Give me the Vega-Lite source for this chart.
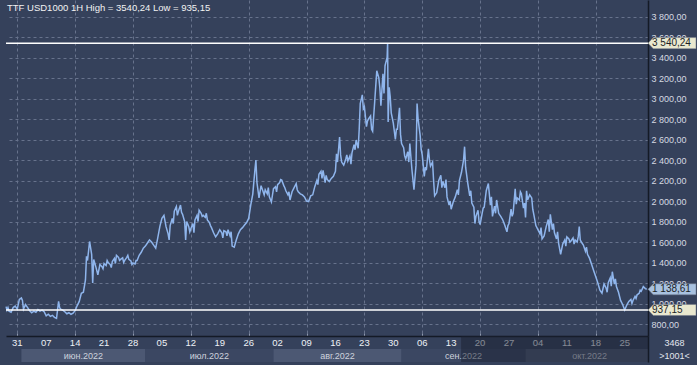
{
  "$schema": "https://vega.github.io/schema/vega-lite/v6.json",
  "background": "#35415b",
  "padding": {"left": 3, "top": 0, "right": 4, "bottom": 3},
  "spacing": 0,
  "bounds": "flush",
  "resolve": {"scale": {"fill": "independent", "x": "independent", "y": "independent"}},
  "config": {
    "view": {"stroke": null},
    "font": "Liberation Sans",
    "locale": {"number": {"decimal": ",", "thousands": " ", "grouping": [3], "currency": ["", ""]}}
  },
  "vconcat": [
    {
      "width": 642,
      "height": 336,
      "encoding": {
        "y": {
          "field": "v", "type": "quantitative",
          "scale": {"domain": [683, 3961], "zero": false, "nice": false},
          "axis": {
            "title": null, "orient": "right",
            "values": [800, 1000, 1200, 1400, 1600, 1800, 2000, 2200, 2400, 2600, 2800, 3000, 3200, 3400, 3600, 3800],
            "tickCount": 16,
            "format": ",.2f", "labelOverlap": false,
            "labelColor": "#d6dae2", "labelFontSize": 9, "labelPadding": 3, "labelBaseline": "middle",
            "ticks": false, "domain": true, "domainColor": "#141a26", "domainWidth": 1.5,
            "grid": true, "gridColor": "#67728c", "gridDash": [3, 3], "gridWidth": 1
          }
        }
      },
      "layer": [
        {
          "data": {"values": [
            {"t":"2022-05-28T07:00","v":969},{"t":"2022-05-28T12:00","v":935},{"t":"2022-05-28T18:00","v":960},
            {"t":"2022-05-29T00:00","v":925},{"t":"2022-05-29T12:00","v":915},
            {"t":"2022-05-30T00:00","v":960},{"t":"2022-05-30T12:00","v":975},
            {"t":"2022-05-31T00:00","v":945},{"t":"2022-05-31T12:00","v":1040},
            {"t":"2022-06-01T00:00","v":1055},{"t":"2022-06-01T06:00","v":1030},{"t":"2022-06-01T12:00","v":945},
            {"t":"2022-06-02T00:00","v":990},{"t":"2022-06-02T12:00","v":960},
            {"t":"2022-06-03T00:00","v":930},{"t":"2022-06-03T12:00","v":910},
            {"t":"2022-06-04T00:00","v":925},{"t":"2022-06-04T12:00","v":915},
            {"t":"2022-06-05T00:00","v":940},{"t":"2022-06-05T12:00","v":925},
            {"t":"2022-06-06T00:00","v":935},{"t":"2022-06-06T12:00","v":920},
            {"t":"2022-06-07T00:00","v":880},{"t":"2022-06-07T12:00","v":895},
            {"t":"2022-06-08T00:00","v":875},{"t":"2022-06-08T12:00","v":885},
            {"t":"2022-06-09T00:00","v":865},{"t":"2022-06-09T12:00","v":855},
            {"t":"2022-06-10T00:00","v":1020},{"t":"2022-06-10T06:00","v":960},{"t":"2022-06-10T12:00","v":945},
            {"t":"2022-06-11T00:00","v":935},{"t":"2022-06-11T12:00","v":920},
            {"t":"2022-06-12T00:00","v":900},{"t":"2022-06-12T12:00","v":910},
            {"t":"2022-06-13T00:00","v":895},{"t":"2022-06-13T12:00","v":905},
            {"t":"2022-06-14T00:00","v":930},{"t":"2022-06-14T12:00","v":980},
            {"t":"2022-06-15T00:00","v":1020},{"t":"2022-06-15T12:00","v":1100},
            {"t":"2022-06-16T00:00","v":1110},{"t":"2022-06-16T12:00","v":1230},{"t":"2022-06-16T18:00","v":1460},
            {"t":"2022-06-17T00:00","v":1420},{"t":"2022-06-17T12:00","v":1605},
            {"t":"2022-06-18T00:00","v":1480},{"t":"2022-06-18T06:00","v":1200},{"t":"2022-06-18T12:00","v":1430},
            {"t":"2022-06-19T00:00","v":1360},{"t":"2022-06-19T12:00","v":1280},
            {"t":"2022-06-20T00:00","v":1380},{"t":"2022-06-20T12:00","v":1360},
            {"t":"2022-06-21T00:00","v":1390},{"t":"2022-06-21T12:00","v":1370},
            {"t":"2022-06-22T00:00","v":1400},{"t":"2022-06-22T12:00","v":1380},
            {"t":"2022-06-23T00:00","v":1410},{"t":"2022-06-23T12:00","v":1440},
            {"t":"2022-06-24T00:00","v":1470},{"t":"2022-06-24T12:00","v":1450},
            {"t":"2022-06-25T00:00","v":1430},{"t":"2022-06-25T12:00","v":1445},
            {"t":"2022-06-26T00:00","v":1420},{"t":"2022-06-26T12:00","v":1450},
            {"t":"2022-06-27T00:00","v":1430},{"t":"2022-06-27T12:00","v":1415},
            {"t":"2022-06-28T00:00","v":1395},{"t":"2022-06-28T12:00","v":1385},
            {"t":"2022-06-29T00:00","v":1420},{"t":"2022-06-29T12:00","v":1470},
            {"t":"2022-06-30T00:00","v":1500},{"t":"2022-06-30T12:00","v":1540},
            {"t":"2022-07-01T00:00","v":1560},{"t":"2022-07-01T12:00","v":1590},
            {"t":"2022-07-02T00:00","v":1620},{"t":"2022-07-02T12:00","v":1600},
            {"t":"2022-07-03T00:00","v":1570},{"t":"2022-07-03T12:00","v":1540},
            {"t":"2022-07-04T00:00","v":1640},{"t":"2022-07-04T12:00","v":1750},
            {"t":"2022-07-05T00:00","v":1830},{"t":"2022-07-05T12:00","v":1860},
            {"t":"2022-07-06T00:00","v":1750},{"t":"2022-07-06T12:00","v":1680},{"t":"2022-07-06T18:00","v":1620},
            {"t":"2022-07-07T00:00","v":1760},{"t":"2022-07-07T12:00","v":1830},
            {"t":"2022-07-08T00:00","v":1900},{"t":"2022-07-08T12:00","v":1945},
            {"t":"2022-07-09T00:00","v":1900},{"t":"2022-07-09T12:00","v":1960},
            {"t":"2022-07-10T00:00","v":1870},{"t":"2022-07-10T12:00","v":1800},{"t":"2022-07-10T18:00","v":1620},
            {"t":"2022-07-11T00:00","v":1800},{"t":"2022-07-11T12:00","v":1750},
            {"t":"2022-07-12T00:00","v":1730},{"t":"2022-07-12T12:00","v":1780},
            {"t":"2022-07-13T00:00","v":1815},{"t":"2022-07-13T12:00","v":1860},
            {"t":"2022-07-14T00:00","v":1910},{"t":"2022-07-14T12:00","v":1880},
            {"t":"2022-07-15T00:00","v":1860},{"t":"2022-07-15T12:00","v":1840},
            {"t":"2022-07-16T00:00","v":1815},{"t":"2022-07-16T12:00","v":1790},
            {"t":"2022-07-17T00:00","v":1740},{"t":"2022-07-17T12:00","v":1690},
            {"t":"2022-07-18T00:00","v":1650},{"t":"2022-07-18T12:00","v":1680},
            {"t":"2022-07-19T00:00","v":1720},{"t":"2022-07-19T12:00","v":1690},
            {"t":"2022-07-20T00:00","v":1710},{"t":"2022-07-20T12:00","v":1700},
            {"t":"2022-07-21T00:00","v":1720},{"t":"2022-07-21T12:00","v":1660},
            {"t":"2022-07-22T00:00","v":1560},{"t":"2022-07-22T12:00","v":1550},
            {"t":"2022-07-23T00:00","v":1620},{"t":"2022-07-23T12:00","v":1680},
            {"t":"2022-07-24T00:00","v":1720},{"t":"2022-07-24T12:00","v":1740},
            {"t":"2022-07-25T00:00","v":1765},{"t":"2022-07-25T12:00","v":1790},
            {"t":"2022-07-26T00:00","v":1830},{"t":"2022-07-26T12:00","v":1960},
            {"t":"2022-07-27T00:00","v":2070},{"t":"2022-07-27T12:00","v":2300},{"t":"2022-07-27T18:00","v":2400},
            {"t":"2022-07-28T00:00","v":2180},{"t":"2022-07-28T12:00","v":2030},
            {"t":"2022-07-29T00:00","v":2150},{"t":"2022-07-29T12:00","v":2090},
            {"t":"2022-07-30T00:00","v":2110},{"t":"2022-07-30T12:00","v":2070},
            {"t":"2022-07-31T00:00","v":2040},{"t":"2022-07-31T12:00","v":1990},
            {"t":"2022-08-01T00:00","v":2120},{"t":"2022-08-01T12:00","v":2140},
            {"t":"2022-08-02T00:00","v":2160},{"t":"2022-08-02T12:00","v":2180},
            {"t":"2022-08-03T00:00","v":2205},{"t":"2022-08-03T12:00","v":2150},
            {"t":"2022-08-04T00:00","v":2100},{"t":"2022-08-04T12:00","v":2060},
            {"t":"2022-08-05T00:00","v":2010},{"t":"2022-08-05T12:00","v":2090},
            {"t":"2022-08-06T00:00","v":2130},{"t":"2022-08-06T12:00","v":2170},
            {"t":"2022-08-07T00:00","v":2090},{"t":"2022-08-07T12:00","v":2070},
            {"t":"2022-08-08T00:00","v":2060},{"t":"2022-08-08T12:00","v":2040},
            {"t":"2022-08-09T00:00","v":2000},{"t":"2022-08-09T12:00","v":1995},
            {"t":"2022-08-10T00:00","v":2050},{"t":"2022-08-10T12:00","v":2060},
            {"t":"2022-08-11T00:00","v":2140},{"t":"2022-08-11T12:00","v":2200},
            {"t":"2022-08-12T00:00","v":2260},{"t":"2022-08-12T12:00","v":2290},
            {"t":"2022-08-13T00:00","v":2300},{"t":"2022-08-13T12:00","v":2180},
            {"t":"2022-08-14T00:00","v":2210},{"t":"2022-08-14T12:00","v":2190},
            {"t":"2022-08-15T00:00","v":2220},{"t":"2022-08-15T12:00","v":2240},
            {"t":"2022-08-16T00:00","v":2290},{"t":"2022-08-16T06:00","v":2460},{"t":"2022-08-16T12:00","v":2380},
            {"t":"2022-08-17T00:00","v":2625},{"t":"2022-08-17T06:00","v":2450},{"t":"2022-08-17T12:00","v":2380},
            {"t":"2022-08-18T00:00","v":2350},{"t":"2022-08-18T12:00","v":2410},
            {"t":"2022-08-19T00:00","v":2390},{"t":"2022-08-19T12:00","v":2440},
            {"t":"2022-08-20T00:00","v":2470},{"t":"2022-08-20T12:00","v":2550},
            {"t":"2022-08-21T00:00","v":2595},{"t":"2022-08-21T12:00","v":2515},{"t":"2022-08-21T18:00","v":2700},
            {"t":"2022-08-22T00:00","v":2950},{"t":"2022-08-22T12:00","v":3035},
            {"t":"2022-08-23T00:00","v":2920},{"t":"2022-08-23T12:00","v":2725},
            {"t":"2022-08-24T00:00","v":2800},{"t":"2022-08-24T12:00","v":2830},
            {"t":"2022-08-25T00:00","v":2680},{"t":"2022-08-25T12:00","v":2970},
            {"t":"2022-08-26T00:00","v":3270},{"t":"2022-08-26T12:00","v":3200},
            {"t":"2022-08-27T00:00","v":2930},{"t":"2022-08-27T12:00","v":3240},
            {"t":"2022-08-28T00:00","v":3320},{"t":"2022-08-28T12:00","v":3400},{"t":"2022-08-28T15:00","v":3540.24},{"t":"2022-08-28T18:00","v":2770},
            {"t":"2022-08-29T00:00","v":3110},{"t":"2022-08-29T06:00","v":3020},{"t":"2022-08-29T12:00","v":2860},
            {"t":"2022-08-30T00:00","v":2760},{"t":"2022-08-30T12:00","v":2600},
            {"t":"2022-08-31T00:00","v":2700},{"t":"2022-08-31T12:00","v":2910},{"t":"2022-08-31T18:00","v":2650},
            {"t":"2022-09-01T00:00","v":2560},{"t":"2022-09-01T12:00","v":2520},
            {"t":"2022-09-02T00:00","v":2410},{"t":"2022-09-02T12:00","v":2480},
            {"t":"2022-09-03T00:00","v":2560},{"t":"2022-09-03T12:00","v":2310},
            {"t":"2022-09-04T00:00","v":2110},{"t":"2022-09-04T12:00","v":2350},{"t":"2022-09-04T18:00","v":2950},
            {"t":"2022-09-05T00:00","v":2800},{"t":"2022-09-05T12:00","v":2640},
            {"t":"2022-09-06T00:00","v":2450},{"t":"2022-09-06T12:00","v":2240},
            {"t":"2022-09-07T00:00","v":2300},{"t":"2022-09-07T12:00","v":2510},
            {"t":"2022-09-08T00:00","v":2340},{"t":"2022-09-08T12:00","v":2380},
            {"t":"2022-09-09T00:00","v":2050},{"t":"2022-09-09T12:00","v":2080},
            {"t":"2022-09-10T00:00","v":2200},{"t":"2022-09-10T12:00","v":2250},
            {"t":"2022-09-11T00:00","v":2190},{"t":"2022-09-11T12:00","v":2130},
            {"t":"2022-09-12T00:00","v":2040},{"t":"2022-09-12T12:00","v":1960},
            {"t":"2022-09-13T00:00","v":1920},{"t":"2022-09-13T12:00","v":1990},
            {"t":"2022-09-14T00:00","v":2040},{"t":"2022-09-14T12:00","v":2110},
            {"t":"2022-09-15T00:00","v":2200},{"t":"2022-09-15T12:00","v":2280},
            {"t":"2022-09-16T00:00","v":2400},{"t":"2022-09-16T06:00","v":2530},{"t":"2022-09-16T12:00","v":2330},
            {"t":"2022-09-17T00:00","v":2180},{"t":"2022-09-17T12:00","v":2050},
            {"t":"2022-09-18T00:00","v":1980},{"t":"2022-09-18T12:00","v":1940},{"t":"2022-09-18T18:00","v":1780},
            {"t":"2022-09-19T00:00","v":1850},{"t":"2022-09-19T12:00","v":1910},
            {"t":"2022-09-20T00:00","v":1770},{"t":"2022-09-20T12:00","v":1880},
            {"t":"2022-09-21T00:00","v":1940},{"t":"2022-09-21T12:00","v":2100},
            {"t":"2022-09-22T00:00","v":2170},{"t":"2022-09-22T12:00","v":1960},
            {"t":"2022-09-23T00:00","v":1850},{"t":"2022-09-23T12:00","v":1950},
            {"t":"2022-09-24T00:00","v":2010},{"t":"2022-09-24T12:00","v":1880},
            {"t":"2022-09-25T00:00","v":1850},{"t":"2022-09-25T12:00","v":1815},
            {"t":"2022-09-26T00:00","v":1760},{"t":"2022-09-26T12:00","v":1700},
            {"t":"2022-09-27T00:00","v":1780},{"t":"2022-09-27T12:00","v":1920},
            {"t":"2022-09-28T00:00","v":1880},{"t":"2022-09-28T12:00","v":2120},
            {"t":"2022-09-29T00:00","v":2030},{"t":"2022-09-29T12:00","v":2010},
            {"t":"2022-09-30T00:00","v":2070},{"t":"2022-09-30T12:00","v":1930},
            {"t":"2022-10-01T00:00","v":1840},{"t":"2022-10-01T06:00","v":2100},{"t":"2022-10-01T12:00","v":2010},
            {"t":"2022-10-02T00:00","v":2060},{"t":"2022-10-02T12:00","v":2030},
            {"t":"2022-10-03T00:00","v":1870},{"t":"2022-10-03T12:00","v":1760},
            {"t":"2022-10-04T00:00","v":1720},{"t":"2022-10-04T12:00","v":1680},
            {"t":"2022-10-05T00:00","v":1630},{"t":"2022-10-05T12:00","v":1660},
            {"t":"2022-10-06T00:00","v":1750},{"t":"2022-10-06T12:00","v":1820},
            {"t":"2022-10-07T00:00","v":1870},{"t":"2022-10-07T12:00","v":1720},
            {"t":"2022-10-08T00:00","v":1690},{"t":"2022-10-08T12:00","v":1630},
            {"t":"2022-10-09T00:00","v":1590},{"t":"2022-10-09T12:00","v":1480},
            {"t":"2022-10-10T00:00","v":1580},{"t":"2022-10-10T12:00","v":1620},
            {"t":"2022-10-11T00:00","v":1650},{"t":"2022-10-11T12:00","v":1630},
            {"t":"2022-10-12T00:00","v":1610},{"t":"2022-10-12T12:00","v":1640},
            {"t":"2022-10-13T00:00","v":1620},{"t":"2022-10-13T12:00","v":1600},
            {"t":"2022-10-14T00:00","v":1750},{"t":"2022-10-14T06:00","v":1620},{"t":"2022-10-14T12:00","v":1600},
            {"t":"2022-10-15T00:00","v":1570},{"t":"2022-10-15T12:00","v":1510},
            {"t":"2022-10-16T00:00","v":1480},{"t":"2022-10-16T12:00","v":1440},
            {"t":"2022-10-17T00:00","v":1380},{"t":"2022-10-17T12:00","v":1320},
            {"t":"2022-10-18T00:00","v":1260},{"t":"2022-10-18T12:00","v":1200},
            {"t":"2022-10-19T00:00","v":1130},{"t":"2022-10-19T12:00","v":1100},
            {"t":"2022-10-20T00:00","v":1190},{"t":"2022-10-20T12:00","v":1150},
            {"t":"2022-10-21T00:00","v":1200},{"t":"2022-10-21T12:00","v":1250},
            {"t":"2022-10-22T00:00","v":1310},{"t":"2022-10-22T12:00","v":1190},
            {"t":"2022-10-23T00:00","v":1165},{"t":"2022-10-23T12:00","v":1110},
            {"t":"2022-10-24T00:00","v":1030},{"t":"2022-10-24T12:00","v":990},
            {"t":"2022-10-25T00:00","v":937},{"t":"2022-10-25T12:00","v":985},
            {"t":"2022-10-26T00:00","v":1020},{"t":"2022-10-26T12:00","v":1040},
            {"t":"2022-10-27T00:00","v":1030},{"t":"2022-10-27T12:00","v":1070},
            {"t":"2022-10-28T00:00","v":1085},{"t":"2022-10-28T12:00","v":1100},
            {"t":"2022-10-29T00:00","v":1120},{"t":"2022-10-29T12:00","v":1165},
            {"t":"2022-10-30T00:00","v":1145},{"t":"2022-10-30T08:00","v":1138.61},
            {"t":"2022-06-20T18:00","v":1340},{"t":"2022-06-21T18:00","v":1420},{"t":"2022-06-22T18:00","v":1350},
            {"t":"2022-06-23T18:00","v":1390},{"t":"2022-06-24T18:00","v":1420},{"t":"2022-06-25T18:00","v":1400},
            {"t":"2022-06-26T18:00","v":1470},{"t":"2022-06-27T18:00","v":1380},{"t":"2022-06-28T18:00","v":1420},
            {"t":"2022-07-07T18:00","v":1780},{"t":"2022-07-08T18:00","v":1860},{"t":"2022-07-09T18:00","v":1890},
            {"t":"2022-07-11T18:00","v":1700},{"t":"2022-07-12T18:00","v":1690},{"t":"2022-07-13T18:00","v":1800},
            {"t":"2022-07-14T18:00","v":1850},{"t":"2022-07-15T18:00","v":1880},{"t":"2022-07-16T18:00","v":1760},
            {"t":"2022-07-19T18:00","v":1640},{"t":"2022-07-20T18:00","v":1660},{"t":"2022-07-21T18:00","v":1700},
            {"t":"2022-07-29T18:00","v":2060},{"t":"2022-07-30T18:00","v":2130},{"t":"2022-08-01T18:00","v":2090},
            {"t":"2022-08-02T18:00","v":2210},{"t":"2022-08-03T18:00","v":2130},{"t":"2022-08-04T18:00","v":2090},
            {"t":"2022-08-06T18:00","v":2110},{"t":"2022-08-11T18:00","v":2160},{"t":"2022-08-12T18:00","v":2220},
            {"t":"2022-08-13T18:00","v":2250},{"t":"2022-08-18T18:00","v":2450},{"t":"2022-08-19T18:00","v":2360},
            {"t":"2022-08-20T18:00","v":2500},{"t":"2022-08-22T18:00","v":2900},{"t":"2022-08-23T18:00","v":2780},
            {"t":"2022-08-24T18:00","v":2700},{"t":"2022-08-26T18:00","v":3100},{"t":"2022-08-27T18:00","v":3050},
            {"t":"2022-08-30T18:00","v":2700},{"t":"2022-09-01T18:00","v":2440},{"t":"2022-09-02T18:00","v":2380},
            {"t":"2022-09-05T18:00","v":2500},{"t":"2022-09-06T18:00","v":2330},{"t":"2022-09-07T18:00","v":2400},
            {"t":"2022-09-08T18:00","v":2200},{"t":"2022-09-10T18:00","v":2130},{"t":"2022-09-11T18:00","v":2210},
            {"t":"2022-09-12T18:00","v":2000},{"t":"2022-09-14T18:00","v":2060},{"t":"2022-09-17T18:00","v":2100},
            {"t":"2022-09-19T18:00","v":1800},{"t":"2022-09-20T18:00","v":1930},{"t":"2022-09-22T18:00","v":2040},
            {"t":"2022-09-23T18:00","v":1880},{"t":"2022-09-26T18:00","v":1760},{"t":"2022-09-27T18:00","v":1850},
            {"t":"2022-09-28T18:00","v":1970},{"t":"2022-09-29T18:00","v":2090},{"t":"2022-09-30T18:00","v":1980},
            {"t":"2022-10-02T18:00","v":1920},{"t":"2022-10-04T18:00","v":1740},{"t":"2022-10-06T18:00","v":1700},
            {"t":"2022-10-07T18:00","v":1780},{"t":"2022-10-08T18:00","v":1700},{"t":"2022-10-10T18:00","v":1560},
            {"t":"2022-10-11T18:00","v":1600},{"t":"2022-10-12T18:00","v":1580},{"t":"2022-10-13T18:00","v":1650},
            {"t":"2022-10-15T18:00","v":1550},{"t":"2022-10-20T18:00","v":1110},{"t":"2022-10-21T18:00","v":1170},
            {"t":"2022-10-22T18:00","v":1240},{"t":"2022-10-26T18:00","v":1000},{"t":"2022-10-27T18:00","v":1050},
            {"t":"2022-10-28T18:00","v":1130}
          ]},
          "mark": {"type": "line", "color": "#8fb5ec", "strokeWidth": 1.5},
          "encoding": {
            "x": {
              "field": "t", "type": "temporal",
              "scale": {"domain": [{"year": 2022, "month": 5, "date": 28, "hours": 6, "minutes": 30}, {"year": 2022, "month": 10, "date": 30, "hours": 15, "minutes": 20}]},
              "axis": {
                "title": null, "labels": false, "orient": "bottom",
                "values": [
                  {"year": 2022, "month": 5, "date": 31}, {"year": 2022, "month": 6, "date": 7}, {"year": 2022, "month": 6, "date": 14},
                  {"year": 2022, "month": 6, "date": 21}, {"year": 2022, "month": 6, "date": 28}, {"year": 2022, "month": 7, "date": 5},
                  {"year": 2022, "month": 7, "date": 12}, {"year": 2022, "month": 7, "date": 19}, {"year": 2022, "month": 7, "date": 26},
                  {"year": 2022, "month": 8, "date": 2}, {"year": 2022, "month": 8, "date": 9}, {"year": 2022, "month": 8, "date": 16},
                  {"year": 2022, "month": 8, "date": 23}, {"year": 2022, "month": 8, "date": 30}, {"year": 2022, "month": 9, "date": 6},
                  {"year": 2022, "month": 9, "date": 13}, {"year": 2022, "month": 9, "date": 20}, {"year": 2022, "month": 9, "date": 27},
                  {"year": 2022, "month": 10, "date": 4}, {"year": 2022, "month": 10, "date": 11}, {"year": 2022, "month": 10, "date": 18},
                  {"year": 2022, "month": 10, "date": 25}
                ],
                "domain": true, "domainColor": "#141a26", "domainWidth": 1.5,
                "ticks": true, "tickSize": -3, "tickColor": "#8c97ad",
                "grid": true, "gridColor": "#67728c", "gridDash": [3, 3], "gridWidth": 1
              }
            }
          }
        },
        {
          "data": {"values": [{"v": 3540.24}, {"v": 937.15}]},
          "mark": {"type": "rule", "color": "#ffffff", "strokeWidth": 1.5}
        },
        {
          "data": {"values": [
            {"v": 3540.24, "kind": "high"},
            {"v": 1138.61, "kind": "last"},
            {"v": 937.15, "kind": "low"}
          ]},
          "layer": [
            {
              "mark": {"type": "point", "shape": "M0,0L0.22,-0.23L2,-0.23L2,0.23L0.22,0.23Z", "size": 2304, "filled": true, "opacity": 1, "stroke": "#6f7788", "strokeWidth": 0.5},
              "encoding": {
                "x": {"datum": {"year": 2022, "month": 10, "date": 30, "hours": 15, "minutes": 20}},
                "fill": {"field": "kind", "type": "nominal", "scale": {"domain": ["high", "last", "low"], "range": ["#e9e8cf", "#a8c1df", "#e9e8cf"]}, "legend": null}
              }
            },
            {
              "mark": {"type": "text", "align": "left", "baseline": "middle", "dx": 4, "fontSize": 10, "color": "#1c1f26"},
              "encoding": {
                "x": {"datum": {"year": 2022, "month": 10, "date": 30, "hours": 15, "minutes": 20}},
                "text": {"field": "v", "type": "quantitative", "format": ",.2f"}
              }
            }
          ]
        },
        {
          "data": {"values": [{"title": "TTF USD1000 1H High = 3540,24 Low = 935,15", "v": 3961}]},
          "mark": {"type": "text", "align": "left", "baseline": "middle", "dx": 1, "dy": 8, "fontSize": 9.5, "color": "#f2f2f2"},
          "encoding": {
            "x": {"datum": {"year": 2022, "month": 5, "date": 28, "hours": 6, "minutes": 30}},
            "text": {"field": "title"}
          }
        }
      ]
    },
    {
      "width": 642,
      "height": 26,
      "layer": [
        {
          "data": {"values": [
            {"start": "2022-06-01T00:00", "end": "2022-07-01T00:00", "label": "июн.2022"},
            {"start": "2022-07-01T00:00", "end": "2022-08-01T00:00", "label": "июл.2022"},
            {"start": "2022-08-01T00:00", "end": "2022-09-01T00:00", "label": "авг.2022"},
            {"start": "2022-09-01T00:00", "end": "2022-10-01T00:00", "label": "сен.2022"},
            {"start": "2022-10-01T00:00", "end": "2022-11-01T00:00", "label": "окт.2022"}
          ]},
          "layer": [
            {
              "mark": {"type": "rect", "clip": true},
              "encoding": {
                "x": {"field": "start", "type": "temporal", "scale": {"domain": [{"year": 2022, "month": 5, "date": 28, "hours": 6, "minutes": 30}, {"year": 2022, "month": 10, "date": 30, "hours": 15, "minutes": 20}]}, "axis": null},
                "x2": {"field": "end"},
                "y": {
                  "datum": "month", "type": "nominal",
                  "scale": {"domain": ["day", "month"], "paddingInner": 0, "paddingOuter": 0},
                  "axis": {
                    "title": null, "orient": "right",
                    "labelExpr": "datum.value == 'day' ? '3468' : '>1001<'",
                    "labelAlign": "center", "labelPadding": 26, "labelFontSize": 9, "labelColor": "#e2e6ee",
                    "ticks": false, "domain": true, "domainColor": "#141a26", "domainWidth": 1.5, "grid": false
                  }
                },
                "fill": {"field": "label", "type": "nominal", "scale": {"domain": ["июн.2022", "июл.2022", "авг.2022", "сен.2022", "окт.2022"], "range": ["#4c5873", "#3b4762", "#4c5873", "#3b4762", "#4c5873"]}, "legend": null}
              }
            },
            {
              "mark": {"type": "text", "fontSize": 9, "color": "#cdd2dc", "baseline": "middle"},
              "encoding": {
                "x": {"field": "start", "type": "temporal", "timeUnit": "yearmonth", "bandPosition": 0.5},
                "y": {"datum": "month", "type": "nominal"},
                "text": {"field": "label"}
              }
            }
          ]
        },
        {
          "data": {"values": [
            {"t": "2022-05-31T00:00"}, {"t": "2022-06-07T00:00"}, {"t": "2022-06-14T00:00"}, {"t": "2022-06-21T00:00"},
            {"t": "2022-06-28T00:00"}, {"t": "2022-07-05T00:00"}, {"t": "2022-07-12T00:00"}, {"t": "2022-07-19T00:00"},
            {"t": "2022-07-26T00:00"}, {"t": "2022-08-02T00:00"}, {"t": "2022-08-09T00:00"}, {"t": "2022-08-16T00:00"},
            {"t": "2022-08-23T00:00"}, {"t": "2022-08-30T00:00"}, {"t": "2022-09-06T00:00"}, {"t": "2022-09-13T00:00"},
            {"t": "2022-09-20T00:00"}, {"t": "2022-09-27T00:00"}, {"t": "2022-10-04T00:00"}, {"t": "2022-10-11T00:00"},
            {"t": "2022-10-18T00:00"}, {"t": "2022-10-25T00:00"}
          ]},
          "mark": {"type": "text", "fontSize": 9.5, "color": "#eef1f6", "baseline": "middle"},
          "encoding": {
            "x": {"field": "t", "type": "temporal"},
            "y": {"datum": "day", "type": "nominal"},
            "text": {"field": "t", "type": "temporal", "format": "%d"}
          }
        },
        {
          "data": {"values": [{"s": "2022-09-15T10:00", "e": "2022-11-01T00:00"}]},
          "mark": {"type": "rect", "clip": true, "color": "#1a2030", "opacity": 0.5},
          "encoding": {
            "x": {"field": "s", "type": "temporal"},
            "x2": {"field": "e"}
          }
        }
      ]
    }
  ]
}
